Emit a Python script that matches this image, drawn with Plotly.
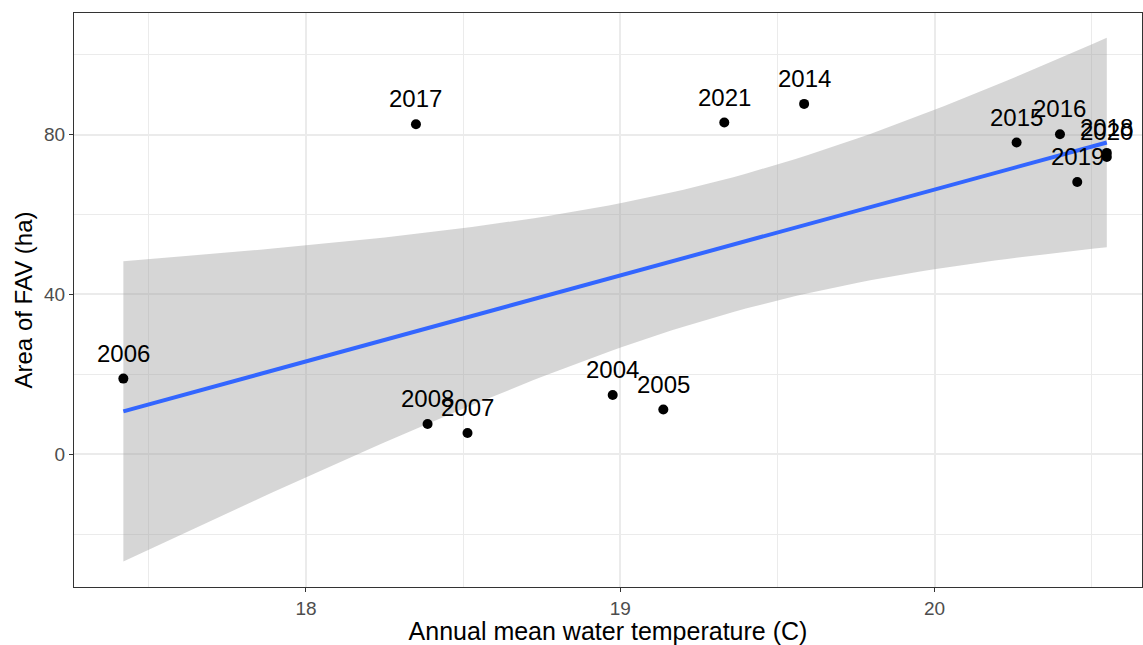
import numpy as np
import plotly.graph_objects as go

# Yearly observations: annual mean water temperature vs. floating aquatic vegetation area
years = ["2004", "2005", "2006", "2007", "2008", "2014", "2015",
         "2016", "2017", "2018", "2019", "2020", "2021"]
water_temp = [18.976, 19.137, 17.419, 18.514, 18.387, 19.585, 20.261,
              20.399, 18.350, 20.548, 20.454, 20.548, 19.331]
fav_area = [14.84, 11.19, 18.94, 5.33, 7.58, 87.66, 78.0,
            80.08, 82.55, 75.4, 68.14, 74.4, 83.0]

# Axis ticks
x_ticks = [18, 19, 20]
y_ticks = [0, 40, 80]

FONT = "Liberation Sans, Arial, sans-serif"

# Ordinary least squares fit with 95% confidence band
x = np.array(water_temp)
y = np.array(fav_area)
n = len(x)
xm, ym = x.mean(), y.mean()
sxx = np.sum((x - xm) ** 2)
b1 = np.sum((x - xm) * (y - ym)) / sxx
b0 = ym - b1 * xm
resid = y - (b0 + b1 * x)
s = np.sqrt(np.sum(resid ** 2) / (n - 2))
t_crit = 2.200985  # t quantile 0.975, df = 11

grid = np.linspace(x.min(), x.max(), 80)
fit = b0 + b1 * grid
se = s * np.sqrt(1.0 / n + (grid - xm) ** 2 / sxx)
upper = fit + t_crit * se
lower = fit - t_crit * se

fig = go.Figure()

fig.add_trace(go.Scatter(
    x=np.concatenate([grid, grid[::-1]]),
    y=np.concatenate([upper, lower[::-1]]),
    fill="toself",
    fillcolor="rgba(153,153,153,0.4)",
    line=dict(width=0),
    mode="lines",
    hoverinfo="skip",
    showlegend=False,
))

fig.add_trace(go.Scatter(
    x=grid, y=fit, mode="lines",
    line=dict(color="#3366FF", width=4),
    showlegend=False,
))

fig.add_trace(go.Scatter(
    x=water_temp, y=fav_area, mode="markers",
    marker=dict(color="black", size=10),
    showlegend=False,
))

for yr, xt, ya in zip(years, water_temp, fav_area):
    fig.add_annotation(
        x=xt, y=ya, text=yr, showarrow=False,
        xanchor="center", yanchor="bottom", yshift=10,
        font=dict(family=FONT, size=24, color="black"),
    )

axis_common = dict(
    showline=True, linecolor="#333333", linewidth=1.3, mirror=True,
    ticks="outside", ticklen=4, tickwidth=1.3, tickcolor="#333333",
    tickfont=dict(family=FONT, size=19, color="#4D4D4D"),
    showgrid=True, gridcolor="#EBEBEB", gridwidth=2,
    zeroline=False,
)

fig.update_layout(
    width=1143, height=645,
    margin=dict(l=74, r=1, t=13, b=58),
    paper_bgcolor="white", plot_bgcolor="white",
    xaxis=dict(
        range=[17.262, 20.660],
        tickmode="array", tickvals=x_ticks, ticktext=[str(v) for v in x_ticks],
        minor=dict(dtick=0.5, tick0=17.5, showgrid=True, gridcolor="#EBEBEB",
                   gridwidth=1.2, ticks=""),
        title=dict(text="Annual mean water temperature (C)",
                   font=dict(family=FONT, size=25, color="black"), standoff=6),
        **axis_common,
    ),
    yaxis=dict(
        range=[-33.2, 110.4],
        tickmode="array", tickvals=y_ticks, ticktext=[str(v) for v in y_ticks],
        minor=dict(dtick=20, tick0=-20, showgrid=True, gridcolor="#EBEBEB",
                   gridwidth=1.2, ticks=""),
        title=dict(text="Area of FAV (ha)",
                   font=dict(family=FONT, size=24, color="black"), standoff=4),
        **axis_common,
    ),
)

fig.write_html("out.html")
